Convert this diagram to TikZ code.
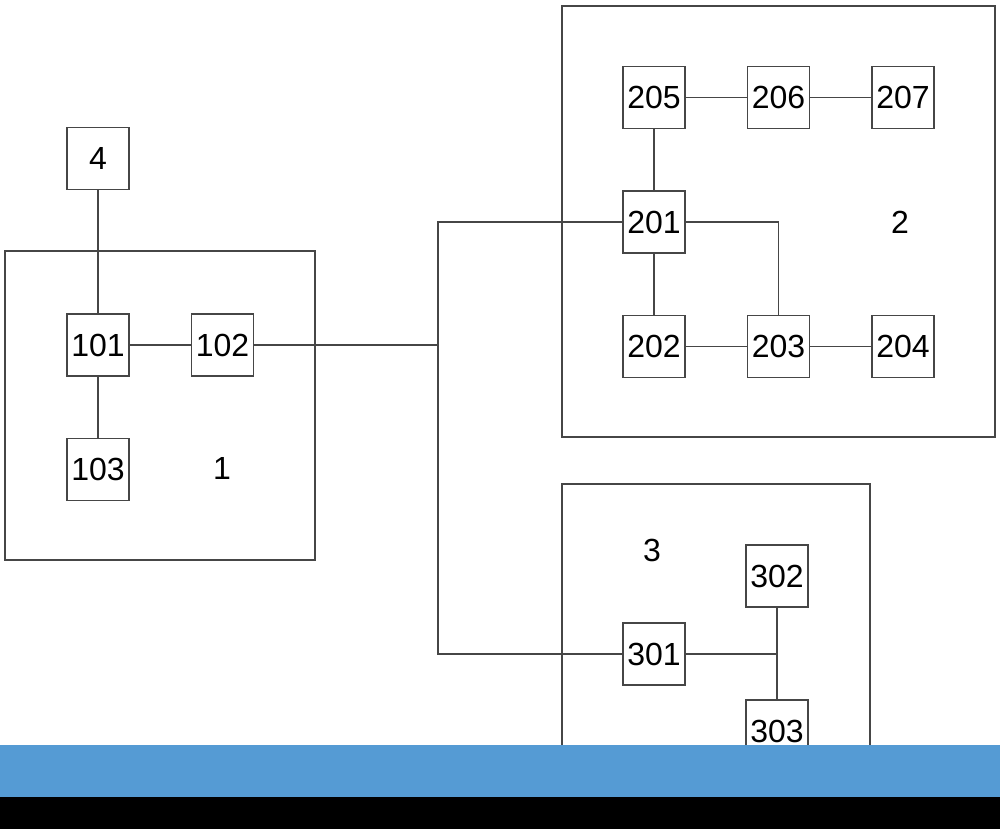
\documentclass[tikz,border=0pt]{standalone}
\usepackage{fontspec}
\setmainfont{Liberation Sans}
\usetikzlibrary{positioning}
\definecolor{wiregray}{RGB}{70,70,70}
\definecolor{scanblue}{RGB}{85,155,212}

\begin{document}
\begin{tikzpicture}[x=1pt, y=-1pt,
  every node/.style={font=\fontsize{32}{36}\selectfont},
  blk/.style={draw=wiregray, line width=1.5pt, fill=white,
              minimum size=62pt, inner sep=0pt},
  grp/.style={draw=wiregray, line width=1.5pt},
  wr/.style ={wiregray, line width=1.5pt}
]
\useasboundingbox (0,0) rectangle (1000,829);

%% group outlines
\draw[grp] (5,251) rectangle (315,560);
\draw[grp] (562,6) rectangle (995,437);
\draw[grp] (562,484) rectangle (870,770);

%% unit 1
\node[blk] (n101) at (98,345) {101};
\node[blk, right=61pt of n101] (n102) {102};
\node[blk, below=61pt of n101] (n103) {103};
\node[blk, above=123pt of n101] (n4) {4};
\node (g1) at (222,468) {1};

%% unit 2
\node[blk] (n201) at (654,222) {201};
\node[blk, below=61pt of n201] (n202) {202};
\node[blk, right=61pt of n202] (n203) {203};
\node[blk, right=61pt of n203] (n204) {204};
\node[blk, above=61pt of n201] (n205) {205};
\node[blk, right=61pt of n205] (n206) {206};
\node[blk, right=61pt of n206] (n207) {207};
\node (g2) at (900,222) {2};

%% unit 3
\node[blk] (n301) at (654,654) {301};
\node[blk] (n302) at (777,576) {302};
\node[blk] (n303) at (777,731) {303};
\node (g3) at (652,550) {3};

\coordinate (bus) at (438,345);

%% links
\foreach \a/\b in {n4/n101,n101/n102,n101/n103,n205/n206,n206/n207,
                   n205/n201,n201/n202,n202/n203,n203/n204,n302/n303}
  \draw[wr] (\a)--(\b);
\draw[wr] (n102) -- (bus);
\draw[wr] (n201.west) -| (bus) |- (n301.west);
\draw[wr] (n201.east) -| (n203.north);
\draw[wr] (n301.east) -- (n301.east -| n302.south);

%% scan bands
\fill[scanblue] (0,745) rectangle (1000,797);
\fill[black] (0,797) rectangle (1000,829);
\end{tikzpicture}
\end{document}
